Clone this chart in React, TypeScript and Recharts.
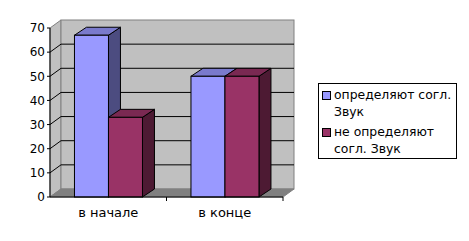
import {
    BarChart,
    Bar,
    XAxis,
    YAxis,
    CartesianGrid,
    ReferenceArea,
    Legend,
} from "recharts";

// catégories et valeurs
const categories = ["в начале", "в конце"];
const determine = [67, 50];
const notDetermine = [33, 50];
const yTicks = [0, 10, 20, 30, 40, 50, 60, 70];
const seriesNames = ["определяют согл. Звук", "не определяют согл. Звук"];
// coupure des libellés comme dans la légende d'origine
const legendLines = [
    ["определяют согл.", "Звук"],
    ["не определяют", "согл. Звук"],
];

const data = categories.map((c, i) => ({ name: c, a: determine[i], b: notDetermine[i] }));

// couleurs façon Excel 3D
const COLORS = [
    { front: "#9999FF", top: "#7A7ACC", side: "#4C4C80" },
    { front: "#993366", top: "#7A2952", side: "#4D1A33" },
];

// profondeur 3D
const DX = 11;
const DY = 8;
const BDX = 12;

const FONT = "'DejaVu Sans', Verdana, sans-serif";

// murs + sol dessinés à partir de la zone de référence
const Walls = (props: any) => {
    const { x, y, width, height } = props;
    const b = y + height;
    return (
        <g>
            <polygon
                points={`${x},${y} ${x + DX},${y - DY} ${x + DX},${b - DY} ${x},${b}`}
                fill="#C0C0C0"
                stroke="#808080"
            />
            <rect x={x + DX} y={y - DY} width={width} height={height} fill="#C0C0C0" stroke="#808080" />
            <polygon
                points={`${x},${b} ${x + DX},${b - DY} ${x + width + DX},${b - DY} ${x + width},${b}`}
                fill="#808080"
                stroke="#808080"
            />
        </g>
    );
};

// lignes de grille sur le mur du fond + diagonales sur le mur gauche
const GridLine = (props: any) => {
    const { x1, y1, x2, y2, index } = props;
    return (
        <g key={`gl-${index}`}>
            <line x1={x1} y1={y1} x2={x1 + DX} y2={y1 - DY} stroke="#000" />
            <line x1={x1 + DX} y1={y1 - DY} x2={x2 + DX} y2={y2 - DY} stroke="#000" />
        </g>
    );
};

const makeBox = (c: { front: string; top: string; side: string }) => (props: any) => {
    const { x, y, width, height } = props;
    if (width == null || height == null) return <g />;
    const r = x + width;
    const b = y + height;
    return (
        <g>
            <polygon
                points={`${r},${y} ${r + BDX},${y - DY} ${r + BDX},${b - DY} ${r},${b}`}
                fill={c.side}
                stroke="#000"
            />
            <polygon
                points={`${x},${y} ${x + BDX},${y - DY} ${r + BDX},${y - DY} ${r},${y}`}
                fill={c.top}
                stroke="#000"
            />
            <rect x={x} y={y} width={width} height={height} fill={c.front} stroke="#000" />
        </g>
    );
};

const CatTick = (props: any) => {
    const { x, y, payload } = props;
    const off = payload?.offset ?? 0;
    return (
        <g>
            <line x1={x + off} y1={y} x2={x + off} y2={y + 4} stroke="#000" />
            <text x={x} y={y + 20} textAnchor="middle" fontSize={13} fontFamily={FONT} fill="#000">
                {payload.value}
            </text>
        </g>
    );
};

const LegendBox = () => (
    <div
        style={{
            border: "1px solid #000",
            background: "#fff",
            boxSizing: "border-box",
            width: 139,
            padding: "2px 0 1px 3px",
            fontFamily: FONT,
            fontSize: 12.4,
            lineHeight: "17px",
            color: "#000",
            textAlign: "left",
        }}
    >
        {seriesNames.map((n, i) => (
            <div key={n} style={{ display: "flex", alignItems: "flex-start", marginTop: i ? 3 : 0 }}>
                <span
                    style={{
                        display: "inline-block",
                        width: 7,
                        height: 7,
                        marginTop: 5,
                        marginRight: 3,
                        background: COLORS[i].front,
                        border: "1px solid #000",
                        flex: "none",
                    }}
                />
                <span style={{ whiteSpace: "nowrap" }}>
                    {legendLines[i][0]}
                    <br />
                    {legendLines[i][1]}
                </span>
            </div>
        ))}
    </div>
);

export default function App() {
    return (
        <div style={{ position: "absolute", left: 0, top: 0, background: "#fff" }}>
            <BarChart
                width={469}
                height={241}
                data={data}
                margin={{ top: 28, right: 186, bottom: 14, left: 10 }}
                barCategoryGap="21%"
                barGap={0}
                style={{ fontFamily: FONT }}
            >
                <ReferenceArea y1={0} y2={70} shape={<Walls />} zIndex={-200} ifOverflow="visible" />
                <CartesianGrid
                    vertical={false}
                    horizontalValues={yTicks.slice(1, -1)}
                    horizontal={(p: any) => <GridLine {...p} />}
                    stroke="#000"
                    zIndex={-100}
                />
                <XAxis
                    dataKey="name"
                    height={30}
                    tickSize={0}
                    tickMargin={0}
                    tickLine={false}
                    axisLine={{ stroke: "#000" }}
                    tick={<CatTick />}
                    interval={0}
                />
                <YAxis
                    width={40}
                    domain={[0, 70]}
                    ticks={yTicks}
                    interval={0}
                    tickSize={3}
                    tickMargin={2}
                    axisLine={{ stroke: "#000" }}
                    tickLine={{ stroke: "#000" }}
                    tick={{ fill: "#000", fontSize: 12, fontFamily: FONT }}
                />
                <Bar dataKey="a" name={seriesNames[0]} shape={makeBox(COLORS[0])} isAnimationActive={false} />
                <Bar dataKey="b" name={seriesNames[1]} shape={makeBox(COLORS[1])} isAnimationActive={false} />
                <Legend
                    layout="horizontal"
                    align="center"
                    verticalAlign="middle"
                    content={<LegendBox />}
                    wrapperStyle={{ left: 318, top: 83, width: 139, height: "auto" }}
                />
            </BarChart>
        </div>
    );
}
